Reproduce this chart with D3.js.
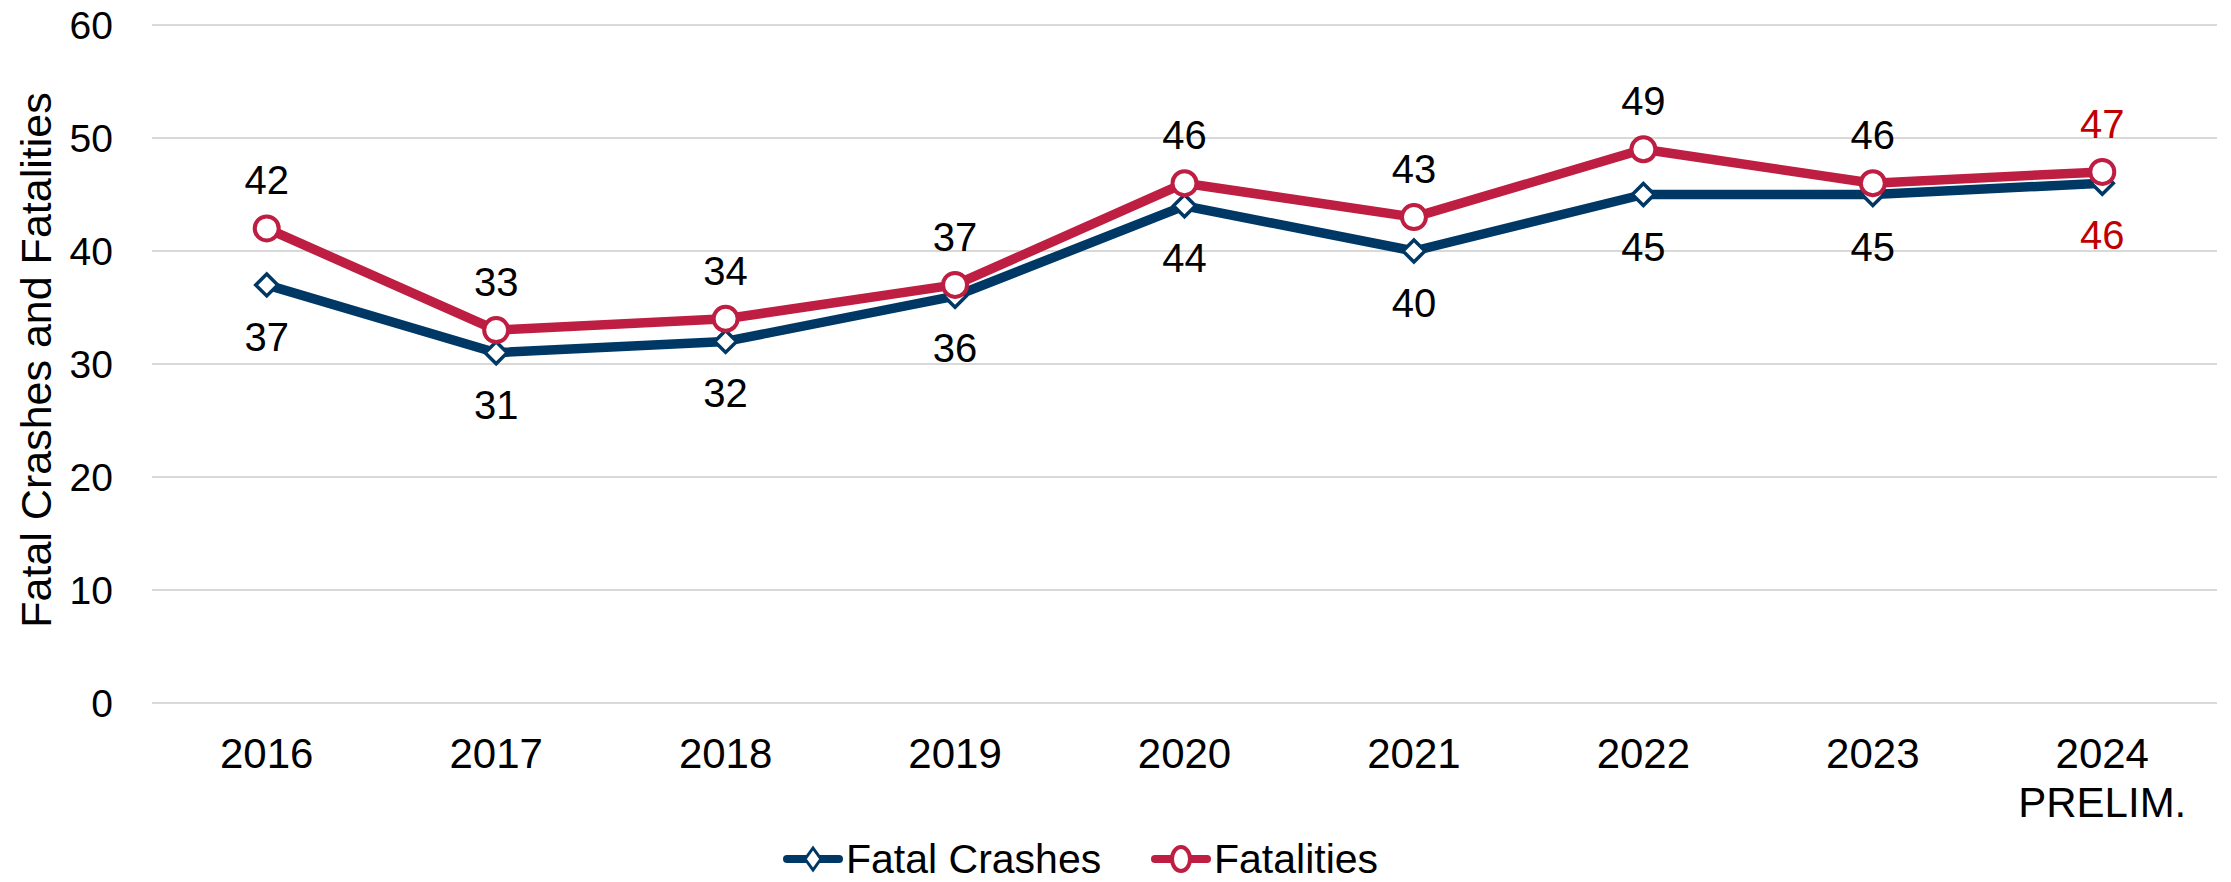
<!DOCTYPE html>
<html>
<head>
<meta charset="utf-8">
<script src="https://cdn.jsdelivr.net/npm/d3@7.9.0/dist/d3.min.js"></script>
<style>
  html, body { margin: 0; padding: 0; background: #fff; }
  svg { display: block; font-family: "Liberation Sans", Arial, sans-serif; }
</style>
</head>
<body>
<div id="chart"></div>
<script>
// ---------------- data ----------------
const years = ["2016", "2017", "2018", "2019", "2020", "2021", "2022", "2023", "2024"];
const yearSub = ["", "", "", "", "", "", "", "", "PRELIM."];
const fatalCrashes = [37, 31, 32, 36, 44, 40, 45, 45, 46];
const fatalities = [42, 33, 34, 37, 46, 43, 49, 46, 47];
const yTicks = [0, 10, 20, 30, 40, 50, 60];

const W = 2231, H = 882;
const navy = "#003865", red = "#BE1E41", prelimRed = "#C00000";

const svg = d3.select("#chart").append("svg").attr("width", W).attr("height", H);
svg.append("rect").attr("width", W).attr("height", H).attr("fill", "#fff");

const x = d3.scaleBand().domain(years).range([152, 2217]);
const y = d3.scaleLinear().domain([0, 60]).range([703, 25]);
const cx = d => x(d) + x.bandwidth() / 2;

// ---------------- grid + y axis ----------------
svg.append("g").selectAll("line").data(yTicks).enter().append("line")
  .attr("x1", 152).attr("x2", 2217)
  .attr("y1", d => y(d)).attr("y2", d => y(d))
  .attr("stroke", "#d9d9d9").attr("stroke-width", 2);

svg.append("g").selectAll("text").data(yTicks).enter().append("text")
  .attr("x", 113).attr("y", d => y(d) + 14)
  .attr("text-anchor", "end").attr("font-size", "39px").attr("fill", "#000")
  .text(d => d);

svg.append("text")
  .attr("transform", `translate(51,360) rotate(-90)`)
  .attr("text-anchor", "middle").attr("font-size", "43px").attr("fill", "#000")
  .text("Fatal Crashes and Fatalities");

// ---------------- x axis labels ----------------
const xl = svg.append("g");
xl.selectAll("text.yr").data(years).enter().append("text")
  .attr("class", "yr")
  .attr("x", d => cx(d)).attr("y", 768)
  .attr("text-anchor", "middle").attr("font-size", "42px").text(d => d);
xl.selectAll("text.sub").data(years.filter((d, i) => yearSub[i])).enter().append("text")
  .attr("class", "sub")
  .attr("x", d => cx(d)).attr("y", 817)
  .attr("text-anchor", "middle").attr("font-size", "42px")
  .text(d => yearSub[years.indexOf(d)]);

// ---------------- lines ----------------
const line = d3.line().x(d => cx(d.year)).y(d => y(d.v));
const crashPts = years.map((yr, i) => ({ year: yr, v: fatalCrashes[i] }));
const fatalPts = years.map((yr, i) => ({ year: yr, v: fatalities[i] }));

const diamond = r => `M0,${-r}L${r},0L0,${r}L${-r},0Z`;

svg.append("path").datum(crashPts).attr("d", line)
  .attr("fill", "none").attr("stroke", navy).attr("stroke-width", 9.5).attr("stroke-linejoin", "round");
svg.append("g").selectAll("path").data(crashPts).enter().append("path")
  .attr("transform", d => `translate(${cx(d.year)},${y(d.v)})`)
  .attr("d", diamond(11))
  .attr("fill", "#fff").attr("stroke", navy).attr("stroke-width", 3.5);

svg.append("path").datum(fatalPts).attr("d", line)
  .attr("fill", "none").attr("stroke", red).attr("stroke-width", 9.5).attr("stroke-linejoin", "round");
svg.append("g").selectAll("circle").data(fatalPts).enter().append("circle")
  .attr("cx", d => cx(d.year)).attr("cy", d => y(d.v)).attr("r", 12)
  .attr("fill", "#fff").attr("stroke", red).attr("stroke-width", 4);

// ---------------- data labels ----------------
const last = years[years.length - 1];
svg.append("g").selectAll("text").data(fatalPts).enter().append("text")
  .attr("x", d => cx(d.year)).attr("y", d => y(d.v) - 34)
  .attr("text-anchor", "middle").attr("font-size", "40px")
  .attr("fill", d => d.year === last ? prelimRed : "#000")
  .text(d => d.v);
svg.append("g").selectAll("text").data(crashPts).enter().append("text")
  .attr("x", d => cx(d.year)).attr("y", d => y(d.v) + 66)
  .attr("text-anchor", "middle").attr("font-size", "40px")
  .attr("fill", d => d.year === last ? prelimRed : "#000")
  .text(d => d.v);

// ---------------- legend ----------------
const legend = [
  { name: "Fatal Crashes", color: navy, shape: "diamond", x: 783 },
  { name: "Fatalities", color: red, shape: "circle", x: 1151 }
];
const ly = 859;
legend.forEach(l => {
  const g = svg.append("g").attr("transform", `translate(${l.x},${ly})`);
  g.append("line").attr("x1", 4).attr("x2", 56).attr("y1", 0).attr("y2", 0)
    .attr("stroke", l.color).attr("stroke-width", 8).attr("stroke-linecap", "round");
  if (l.shape === "diamond") {
    g.append("path").attr("transform", "translate(30,0) scale(0.72,1)").attr("d", diamond(11))
      .attr("fill", "#fff").attr("stroke", l.color).attr("stroke-width", 3.5);
  } else {
    g.append("ellipse").attr("cx", 30).attr("cy", 0).attr("rx", 9).attr("ry", 12)
      .attr("fill", "#fff").attr("stroke", l.color).attr("stroke-width", 4);
  }
  g.append("text").attr("x", 63).attr("y", 14).attr("font-size", "41px").text(l.name);
});
</script>
</body>
</html>
